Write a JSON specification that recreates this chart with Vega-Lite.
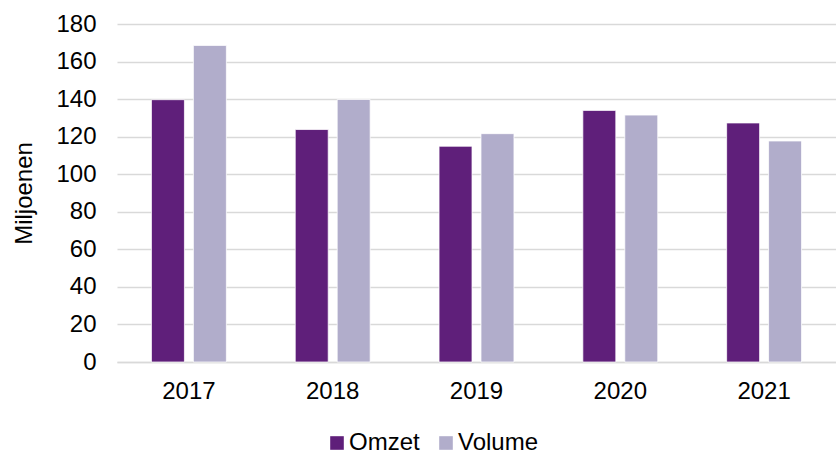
{
  "$schema": "https://vega.github.io/schema/vega-lite/v6.json",
  "width": 719,
  "height": 338,
  "autosize": {"type": "none"},
  "padding": {"left": 117, "top": 24, "right": 0, "bottom": 89},
  "background": "white",
  "config": {
    "font": "Liberation Sans",
    "view": {"stroke": null}
  },
  "data": {
    "values": [
      {"jaar": "2017", "reeks": "Omzet", "waarde": 139.7},
      {"jaar": "2017", "reeks": "Volume", "waarde": 168.6},
      {"jaar": "2018", "reeks": "Omzet", "waarde": 123.8},
      {"jaar": "2018", "reeks": "Volume", "waarde": 139.8},
      {"jaar": "2019", "reeks": "Omzet", "waarde": 114.9},
      {"jaar": "2019", "reeks": "Volume", "waarde": 121.6},
      {"jaar": "2020", "reeks": "Omzet", "waarde": 134.0},
      {"jaar": "2020", "reeks": "Volume", "waarde": 131.5},
      {"jaar": "2021", "reeks": "Omzet", "waarde": 127.3},
      {"jaar": "2021", "reeks": "Volume", "waarde": 117.7}
    ]
  },
  "mark": {"type": "bar", "stroke": "white", "strokeWidth": 0.75},
  "encoding": {
    "x": {
      "field": "jaar",
      "type": "nominal",
      "title": null,
      "scale": {"paddingInner": 0.479, "paddingOuter": 0.2395},
      "axis": {
        "labelAngle": 0,
        "labelFontSize": 24,
        "labelColor": "#000000",
        "labelPadding": 17,
        "ticks": false,
        "domainColor": "#D9D9D9",
        "domainWidth": 1.5,
        "grid": false
      }
    },
    "xOffset": {
      "field": "reeks",
      "type": "nominal",
      "scale": {"paddingInner": 0.214, "paddingOuter": 0}
    },
    "y": {
      "field": "waarde",
      "type": "quantitative",
      "title": "Miljoenen",
      "scale": {"domain": [0, 180], "nice": false},
      "axis": {
        "values": [0, 20, 40, 60, 80, 100, 120, 140, 160, 180],
        "labelFontSize": 24,
        "labelColor": "#000000",
        "labelPadding": 21,
        "ticks": false,
        "domain": false,
        "gridColor": "#D9D9D9",
        "gridWidth": 1.5,
        "titleFontSize": 24,
        "titleFontWeight": "normal",
        "titleColor": "#000000",
        "titlePadding": 19
      }
    },
    "color": {
      "field": "reeks",
      "type": "nominal",
      "title": null,
      "scale": {"domain": ["Omzet", "Volume"], "range": ["#5F1F7A", "#B1ADCB"]},
      "legend": {
        "orient": "none",
        "direction": "horizontal",
        "legendX": 208,
        "legendY": 407,
        "symbolType": "square",
        "symbolSize": 185,
        "symbolStrokeWidth": 0,
        "labelFontSize": 24,
        "labelColor": "#000000",
        "labelOffset": 0,
        "columnPadding": 14
      }
    }
  }
}
